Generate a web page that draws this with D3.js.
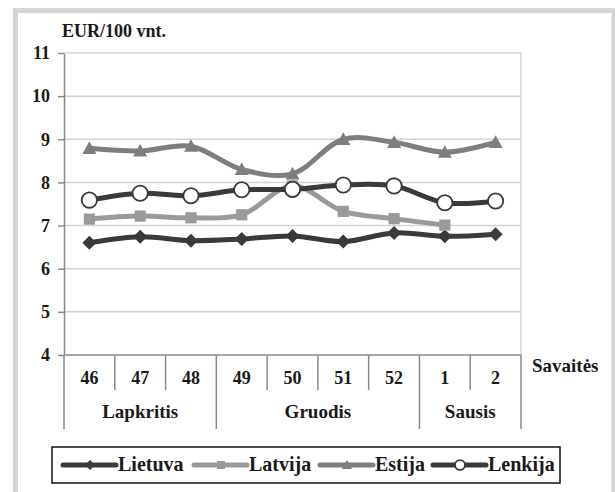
<!DOCTYPE html>
<html>
<head>
<meta charset="utf-8">
<script src="https://cdn.jsdelivr.net/npm/d3@7"></script>
</head>
<body style="margin:0">
<script>
// weeks and months
var weeks = ["46", "47", "48", "49", "50", "51", "52", "1", "2"];
var months = [
  { name: "Lapkritis", from: 0, to: 3 },
  { name: "Gruodis", from: 3, to: 7 },
  { name: "Sausis", from: 7, to: 9 }
];
var yTicks = [4, 5, 6, 7, 8, 9, 10, 11];

// prices, EUR/100 vnt.
var lietuva = [6.60, 6.74, 6.65, 6.69, 6.76, 6.63, 6.83, 6.75, 6.80];
var latvija = [7.15, 7.22, 7.18, 7.25, 7.92, 7.33, 7.16, 7.01, null];
var estija  = [8.79, 8.73, 8.84, 8.30, 8.20, 9.00, 8.93, 8.70, 8.93];
var lenkija = [7.59, 7.75, 7.69, 7.83, 7.84, 7.94, 7.92, 7.53, 7.57];

var series = [
  { name: "Lietuva", values: lietuva, color: "#3a3a3a", marker: "diamond" },
  { name: "Latvija", values: latvija, color: "#9a9a9a", marker: "square" },
  { name: "Estija",  values: estija,  color: "#7e7e7e", marker: "triangle" },
  { name: "Lenkija", values: lenkija, color: "#3a3a3a", marker: "circle" }
];

var width = 615;
var height = 492;

var svg = d3.select("body").append("svg")
  .attr("width", width)
  .attr("height", height);

function label(sel, size) {
  return sel
    .attr("font-family", "Liberation Serif")
    .attr("font-weight", "bold")
    .attr("font-size", size)
    .attr("fill", "#1a1a1a");
}

// outer frame
svg.append("rect")
  .attr("x", 15.5)
  .attr("y", 10.5)
  .attr("width", 598.5)
  .attr("height", 500)
  .attr("fill", "none")
  .attr("stroke", "#d4d4d4")
  .attr("stroke-width", 5);

var plotLeft = 64, plotRight = 521, plotTop = 53, plotBottom = 355;

var xScale = d3.scaleBand()
  .domain(d3.range(weeks.length))
  .range([plotLeft, plotRight]);

var yScale = d3.scaleLinear()
  .domain([4, 11])
  .range([plotBottom, plotTop]);

// grid
svg.append("g")
  .selectAll("line")
  .data(yTicks.slice(1))
  .enter().append("line")
  .attr("x1", plotLeft)
  .attr("x2", plotRight)
  .attr("y1", d => yScale(d))
  .attr("y2", d => yScale(d))
  .attr("stroke", "#d4d4d4")
  .attr("stroke-width", 1.5);

svg.append("line")
  .attr("x1", plotRight).attr("x2", plotRight)
  .attr("y1", plotTop).attr("y2", plotBottom)
  .attr("stroke", "#d4d4d4")
  .attr("stroke-width", 1.5);

// y axis
var yAxis = d3.axisLeft(yScale)
  .tickValues(yTicks)
  .tickFormat(d3.format("d"))
  .tickSize(6)
  .tickSizeOuter(0)
  .tickPadding(8);

var gy = svg.append("g")
  .attr("transform", "translate(" + plotLeft + ",0)")
  .call(yAxis);
gy.attr("font-family", "Liberation Serif");
gy.select(".domain").attr("stroke", "#8a8a8a").attr("stroke-width", 1.5);
gy.selectAll(".tick line").attr("stroke", "#8a8a8a").attr("stroke-width", 1.5);
label(gy.selectAll(".tick text"), 18);

// x axis: weeks and month groups
var axisColor = "#8a8a8a";
svg.append("line")
  .attr("x1", plotLeft).attr("x2", plotRight)
  .attr("y1", plotBottom).attr("y2", plotBottom)
  .attr("stroke", axisColor).attr("stroke-width", 1.5);

svg.append("g")
  .selectAll("line")
  .data(d3.range(weeks.length + 1))
  .enter().append("line")
  .attr("x1", i => i < weeks.length ? xScale(i) : plotRight)
  .attr("x2", i => i < weeks.length ? xScale(i) : plotRight)
  .attr("y1", plotBottom)
  .attr("y2", i => months.some(m => m.from == i || m.to == i) ? 429 : 390)
  .attr("stroke", axisColor)
  .attr("stroke-width", 1.5);

label(svg.append("g")
  .selectAll("text")
  .data(weeks)
  .enter().append("text")
  .attr("x", (d, i) => xScale(i) + xScale.bandwidth() / 2)
  .attr("y", 384)
  .attr("text-anchor", "middle")
  .text(d => d), 18);

label(svg.append("g")
  .selectAll("text")
  .data(months)
  .enter().append("text")
  .attr("x", d => (xScale(d.from) + (d.to < weeks.length ? xScale(d.to) : plotRight)) / 2)
  .attr("y", 418)
  .attr("text-anchor", "middle")
  .text(d => d.name), 19);

label(svg.append("text")
  .attr("x", 532)
  .attr("y", 372)
  .text("Savaitės"), 19);

label(svg.append("text")
  .attr("x", 62)
  .attr("y", 37)
  .text("EUR/100 vnt."), 18);

// markers
function drawMarker(g, type, color, s) {
  if (type == "circle") {
    g.append("circle").attr("r", s * 0.9)
      .attr("fill", "#fff").attr("stroke", color).attr("stroke-width", 1.8);
  } else if (type == "square") {
    g.append("rect").attr("x", -s * 0.8).attr("y", -s * 0.8)
      .attr("width", s * 1.6).attr("height", s * 1.6).attr("fill", color);
  } else if (type == "triangle") {
    g.append("path")
      .attr("d", "M0," + (-s) + "L" + s + "," + (s * 0.8) + "L" + (-s) + "," + (s * 0.8) + "Z")
      .attr("fill", color);
  } else {
    g.append("path")
      .attr("d", "M0," + (-s) + "L" + s + ",0L0," + s + "L" + (-s) + ",0Z")
      .attr("fill", color);
  }
}

var line = d3.line()
  .defined(d => d != null)
  .x((d, i) => xScale(i) + xScale.bandwidth() / 2)
  .y(d => yScale(d))
  .curve(d3.curveCatmullRom.alpha(0.5));

series.forEach(function (s) {
  svg.append("path")
    .datum(s.values)
    .attr("fill", "none")
    .attr("stroke", s.color)
    .attr("stroke-width", 5)
    .attr("stroke-linejoin", "round")
    .attr("d", line);

  s.values.forEach(function (v, i) {
    if (v == null) return;
    var g = svg.append("g")
      .attr("transform", "translate(" + (xScale(i) + xScale.bandwidth() / 2) + "," + yScale(v) + ")");
    drawMarker(g, s.marker, s.color, s.marker == "circle" ? 8.5 : 7);
  });
});

// legend
svg.append("rect")
  .attr("x", 52)
  .attr("y", 447)
  .attr("width", 508)
  .attr("height", 36)
  .attr("fill", "#fff")
  .attr("stroke", "#111")
  .attr("stroke-width", 1.5);

var legendX = [63, 194, 320, 433];
series.forEach(function (s, i) {
  var x = legendX[i];
  svg.append("line")
    .attr("x1", x).attr("x2", x + 53)
    .attr("y1", 465).attr("y2", 465)
    .attr("stroke", s.color)
    .attr("stroke-width", 5)
    .attr("stroke-linecap", "round");
  var g = svg.append("g").attr("transform", "translate(" + (x + 27) + ",465)");
  drawMarker(g, s.marker, s.color, s.marker == "circle" ? 5.5 : 5);
  label(svg.append("text")
    .attr("x", x + 55)
    .attr("y", 471)
    .text(s.name), 20);
});
</script>
</body>
</html>
